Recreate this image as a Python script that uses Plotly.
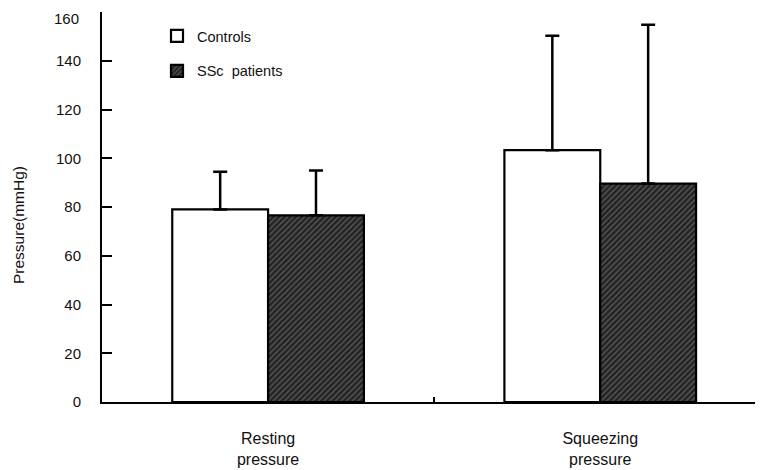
import plotly.graph_objects as go

categories = ["Resting<br>pressure", "Squeezing<br>pressure"]
controls_mean = [79, 103.3]
controls_sd = [15.5, 47]
ssc_mean = [76.6, 89.6]
ssc_sd = [18.4, 65.2]
y_ticks = [0, 20, 40, 60, 80, 100, 120, 140, 160]

FONT = "Liberation Sans, Arial, sans-serif"

# page body has an 8px margin; figure coordinates = screen - 8
W, H = 755, 462
L, T, B = 94, 4, 68
pw, ph = W - L, H - T - B

fig = go.Figure()
fig.add_trace(go.Bar(
    name="Controls", x=categories, y=controls_mean, legendgroup="a",
    marker=dict(color="white", line=dict(color="black", width=2.2)),
    error_y=dict(type="data", symmetric=False, array=controls_sd,
                 arrayminus=[0, 0], color="black", thickness=2.5, width=7),
))
fig.add_trace(go.Bar(
    name="SSc  patients", x=categories, y=ssc_mean, legendgroup="b",
    marker=dict(color="#222222", line=dict(color="black", width=2.2),
                pattern=dict(shape="/", fgcolor="#9a9a9a", bgcolor="#232323",
                             size=4, solidity=0.3)),
    error_y=dict(type="data", symmetric=False, array=ssc_sd,
                 arrayminus=[0, 0], color="black", thickness=2.5, width=7),
))

# the top tick label sits a little lower than its tick in the reference
tick_text = [str(v) for v in y_ticks[:-1]] + [""]

fig.update_layout(
    width=W, height=H,
    margin=dict(l=L, r=0, t=T, b=B, autoexpand=False),
    paper_bgcolor="white", plot_bgcolor="white",
    barmode="group", bargap=0.423, bargroupgap=0,
    font=dict(family=FONT, size=15, color="#111"),
    legend=dict(x=(157 - 102) / pw, y=1 - (20 - 12) / ph,
                xanchor="left", yanchor="top",
                bgcolor="rgba(0,0,0,0)", font=dict(size=14.5),
                tracegroupgap=13, itemwidth=30, traceorder="grouped"),
    xaxis=dict(range=[-0.5, 1.49], showline=True, linecolor="black",
               linewidth=2, ticks="inside", tickson="boundaries",
               ticklen=5, tickcolor="black", tickwidth=1.5, automargin=False,
               ticklabelstandoff=21, tickfont=dict(size=16), showgrid=False,
               zeroline=False),
    yaxis=dict(range=[0, 160.01], tickvals=y_ticks, ticktext=tick_text,
               showline=True,
               linecolor="black", linewidth=2, ticks="inside", ticklen=10,
               tickcolor="black", tickwidth=1.5, ticklabelstandoff=16,
               automargin=False, ticklabeloverflow="allow",
               showgrid=False, zeroline=False, tickfont=dict(size=15)),
    annotations=[
        dict(text="Pressure(mmHg)", textangle=-90,
             x=(10 - L) / pw, y=(394 - 217) / ph,
             xanchor="center", yanchor="middle",
             xref="paper", yref="paper", showarrow=False,
             font=dict(size=15.5)),
        dict(text=str(y_ticks[-1]), x=(81 - 102) / pw, y=(394 - 0) / ph,
             xanchor="right", yanchor="top", xref="paper", yref="paper",
             showarrow=False, font=dict(size=15)),
    ],
)

fig.write_html("out.html")
